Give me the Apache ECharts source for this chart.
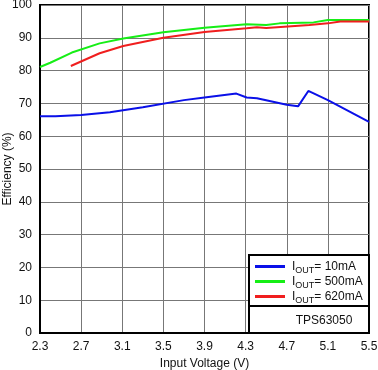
<!DOCTYPE html>
<html><head><meta charset="utf-8">
<script src="https://cdn.jsdelivr.net/npm/echarts@6/dist/echarts.min.js"></script>
<style>html,body{margin:0;padding:0;background:#fff}#c{width:378px;height:370px}</style>
</head><body><div id="c"></div>
<script>
// Data (input voltage V, efficiency %)
const vin10 = [2.30, 2.45, 2.70, 2.98, 3.30, 3.70, 3.90, 4.21, 4.31, 4.41, 4.70, 4.81, 4.91, 5.10, 5.50];
const eff10 = [66.1, 66.1, 66.5, 67.3, 68.8, 71.0, 71.8, 73.0, 71.8, 71.6, 69.6, 69.1, 73.8, 71.0, 64.4];
const vin500 = [2.30, 2.40, 2.61, 2.88, 3.11, 3.50, 3.90, 4.31, 4.50, 4.63, 4.96, 5.10, 5.50];
const eff500 = [81.1, 82.4, 85.5, 88.3, 89.8, 91.7, 93.1, 94.1, 93.9, 94.4, 94.7, 95.4, 95.4];
const vin620 = [2.60, 2.88, 3.11, 3.50, 3.90, 4.31, 4.41, 4.50, 4.92, 5.10, 5.22, 5.50];
const eff620 = [81.4, 85.3, 87.5, 90.0, 91.8, 92.9, 93.2, 93.0, 93.9, 94.4, 95.0, 95.0];
const xTickLabels = ['2.3','2.7','3.1','3.5','3.9','4.3','4.7','5.1','5.5'];
const yTickLabels = ['0','10','20','30','40','50','60','70','80','90','100'];
const seriesNames = ['10mA','500mA','620mA'];
const seriesColors = ['#0a10e8','#16ee16','#f01e1e'];
const xOrigin = 2.3;

const toPts = (xs, ys) => xs.map((x, i) => [+(x - xOrigin).toFixed(4), ys[i]]);
const F = 'Liberation Sans, Arial, sans-serif';
const chart = echarts.init(document.getElementById('c'), null, {renderer: 'canvas'});
const rich = {
  i: {fontSize: 12, fontFamily: F, color: '#111', lineHeight: 13, verticalAlign: 'bottom'},
  s: {fontSize: 9, fontFamily: F, color: '#111', lineHeight: 13, verticalAlign: 'bottom', padding: [0,0,-2,0]},
  n: {fontSize: 12, fontFamily: F, color: '#111', lineHeight: 13, verticalAlign: 'bottom'}
};
const allData = [toPts(vin10, eff10), toPts(vin500, eff500), toPts(vin620, eff620)];
chart.setOption({
  animation: false,
  textStyle: {fontFamily: F},
  grid: {left: 40, right: 9, top: 5, bottom: 37, outerBoundsMode: 'none', containLabel: false,
    show: true, borderColor: '#000', borderWidth: 2, backgroundColor: 'transparent'},
  xAxis: {
    type: 'value', min: 0, max: 3.2, interval: 0.4,
    name: 'Input Voltage (V)', nameLocation: 'middle', nameGap: 25, nameMoveOverlap: false,
    nameTextStyle: {fontSize: 12, color: '#111', fontFamily: F},
    axisLine: {show: true, lineStyle: {color: '#000', width: 2}},
    axisTick: {show: false},
    axisLabel: {fontSize: 12, color: '#111', margin: 8, fontFamily: F,
      formatter: (v) => xTickLabels[Math.round(v / 0.4)]},
    splitLine: {show: true, lineStyle: {color: '#777', width: 1}}
  },
  yAxis: {
    type: 'value', min: 0, max: 100, interval: 10,
    name: 'Efficiency (%)', nameLocation: 'middle', nameGap: 26, nameMoveOverlap: false,
    nameTextStyle: {fontSize: 12, color: '#111', fontFamily: F},
    axisLine: {show: true, lineStyle: {color: '#000', width: 2}},
    axisTick: {show: false},
    axisLabel: {fontSize: 12, color: '#111', margin: 8, fontFamily: F,
      formatter: (v) => yTickLabels[Math.round(v / 10)]},
    splitLine: {show: true, lineStyle: {color: '#777', width: 1}}
  },
  graphic: [
    {type: 'rect', z: 5, shape: {x: 249, y: 255, width: 120, height: 78}, style: {fill: '#fff', stroke: '#000', lineWidth: 2}},
    {type: 'line', z: 5, shape: {x1: 249, y1: 306, x2: 369, y2: 306}, style: {stroke: '#000', lineWidth: 2}},
    {type: 'text', z: 6, style: {text: 'TPS63050', x: 324, y: 321, align: 'center', verticalAlign: 'middle', fontSize: 12, fontFamily: F, fill: '#111'}}
  ],
  legend: {
    show: true, z: 10, orient: 'vertical', left: 255, top: 261,
    itemWidth: 30, itemHeight: 3, itemGap: 1, padding: 0,
    icon: 'rect',
    data: seriesNames,
    formatter: (n) => '{i|I}{s|OUT}{n|= ' + n + '}',
    textStyle: {rich: rich, padding: [0,0,0,2]}
  },
  series: seriesNames.map((n, k) => ({
    name: n, type: 'line', data: allData[k], showSymbol: false, symbol: 'none',
    lineStyle: {color: seriesColors[k], width: 2}, itemStyle: {color: seriesColors[k]}, z: 3
  }))
});
</script></body></html>
